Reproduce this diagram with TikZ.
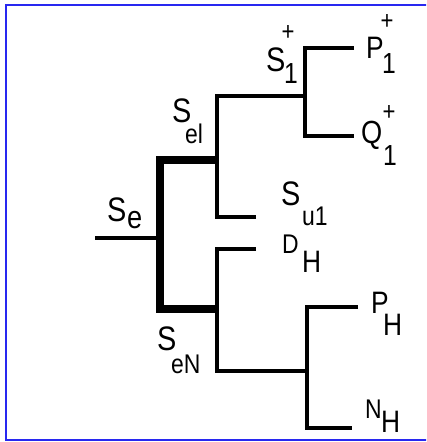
\documentclass[tikz,border=0pt]{standalone}
\usepackage{fontspec}
\newfontfamily\lf[FakeStretch=0.85]{Liberation Sans}
\definecolor{framecol}{RGB}{40,40,240}
\tikzset{
  thinln/.style={line width=4.8pt, line join=miter, line cap=butt},
  thickln/.style={line width=7.8pt, line join=miter, line cap=butt},
  lab/.style={inner sep=0pt, outer sep=0pt, anchor=base west},
  pluslab/.style={inner sep=0pt, outer sep=0pt, anchor=center}
}
\newcommand\mylbl[5]{\node[lab, scale=#4/10] (#1) at (#2,#3) {\lf\fontsize{10}{12}\selectfont #5};}
\newcommand\myplus[3]{\node[pluslab, scale=2.6] (#1) at (#2,#3) {\lf\fontsize{10}{12}\selectfont +};}
\begin{document}
\begin{tikzpicture}[x=1pt,y=-1pt]
\useasboundingbox (0,0) rectangle (426,442);
\clip (0,0) rectangle (426,442);
\draw[framecol, line width=1.6pt] (6,5) rectangle (445,440);
% junction coordinates
\coordinate (root) at (95,238);
\coordinate (eJ) at (160,238);
\coordinate (elJ) at (217,160);
\coordinate (enJ) at (217,309);
\coordinate (su1end) at (256,217);
\coordinate (elTop) at (217,96);
\coordinate (s1J) at (305,96);
\coordinate (p1c) at (305,48);
\coordinate (p1end) at (354,48);
\coordinate (q1c) at (305,136);
\coordinate (q1end) at (354,136);
\coordinate (dhend) at (256,249);
\coordinate (dhc) at (217,249);
\coordinate (enBot) at (217,371);
\coordinate (hJ) at (307,371);
\coordinate (phc) at (307,307);
\coordinate (phend) at (358,307);
\coordinate (nhc) at (307,428);
\coordinate (nhend) at (352,428);
% connectors
\draw[thinln] (root) -- (eJ);
\draw[thickln] (elJ) -| (eJ) |- (enJ);
\draw[thinln] (su1end) -| (elTop) -- (s1J);
\draw[thinln] (p1end) -- (p1c) -- (q1c) -- (q1end);
\draw[thinln] (dhend) -- (dhc) -- (enBot) -- (hJ);
\draw[thinln] (phend) -- (phc) -- (nhc) -- (nhend);
% labels
\mylbl{seS}{107}{221}{34}{S}
\mylbl{seSub}{127}{228}{32}{e}
\mylbl{selS}{172}{122}{34}{S}
\mylbl{selSub}{185}{143}{27}{el}
\mylbl{s1S}{266}{71}{34}{S}
\mylbl{s1Sub}{284}{83}{29}{1}
\myplus{s1Sup}{288}{33}
\mylbl{p1P}{366}{58}{31}{P}
\mylbl{p1Sub}{382}{73}{29}{1}
\myplus{p1Sup}{387}{22}
\mylbl{q1Q}{361}{143}{32}{Q}
\mylbl{q1Sub}{383}{165}{29}{1}
\myplus{q1Sup}{389}{113}
\mylbl{su1S}{281}{205}{34}{S}
\mylbl{su1Sub}{302}{225}{27}{u1}
\mylbl{dhD}{282}{253}{27}{D}
\mylbl{dhSub}{302}{272}{31}{H}
\mylbl{phP}{371}{313}{31}{P}
\mylbl{phSub}{383}{335}{31}{H}
\mylbl{senS}{157}{350}{34}{S}
\mylbl{senSub}{171}{373}{27}{eN}
\mylbl{nhN}{365}{418}{27}{N}
\mylbl{nhSub}{381}{432}{31}{H}
\end{tikzpicture}
\end{document}
